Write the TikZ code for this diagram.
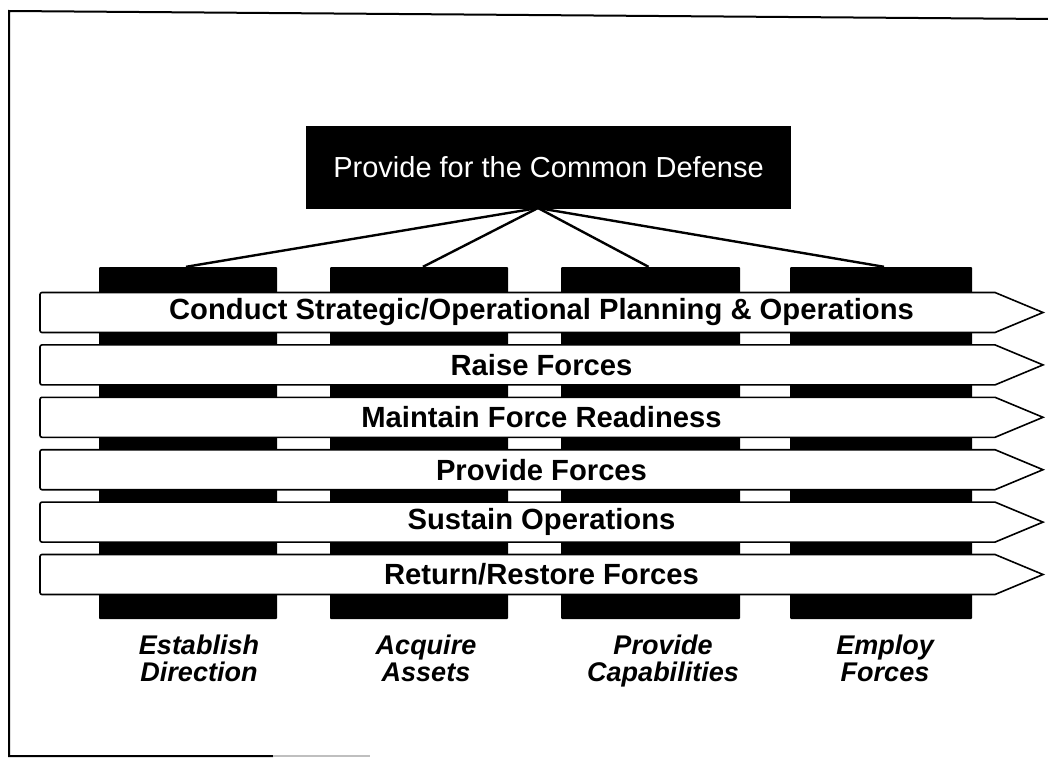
\documentclass[tikz,border=0pt]{standalone}
\usepackage{fontspec}
\setmainfont{Liberation Sans}
\begin{document}
\begin{tikzpicture}[x=1pt,y=-1pt,
  topbox/.style={fill=black,text=white,minimum width=485pt,minimum height=83pt,inner sep=0pt,
    font=\fontsize{29}{32}\selectfont},
  column/.style={fill=black,minimum height=352pt,inner sep=0pt,rounded corners=1pt},
  bandline/.style={draw=black,line width=1.6pt,fill=white,line join=miter},
  bandtext/.style={inner sep=0pt,font=\bfseries\fontsize{29.2}{31}\selectfont},
  link/.style={line width=2.4pt},
  label/.style={align=center,inner sep=0pt,anchor=north,font=\bfseries\itshape\fontsize{27}{27}\selectfont},
  frame/.style={line width=2pt}
]
\useasboundingbox (0,0) rectangle (1048,757);
% frame
\coordinate (ftr) at (1048,19);
\coordinate (ftl) at (9,11);
\coordinate (fbl) at (9,756);
\coordinate (fbm) at (273,756);
\coordinate (fbr) at (370,756);
\draw[frame] (ftr) -- (ftl) -- (fbl) -- (fbm);
\draw[frame,black!25] (fbm) -- (fbr);
% top box
\node[topbox] (top) at (548.5,167.5) {Provide for the Common Defense};
% columns
\node[column,minimum width=178pt] (c1) at (188,443) {};
\node[column,minimum width=178pt] (c2) at (419,443) {};
\node[column,minimum width=179pt] (c3) at (650.5,443) {};
\node[column,minimum width=182pt] (c4) at (881,443) {};
% connectors
\coordinate (apex) at (538,208);
\draw[link] (apex) -- ([xshift=-2pt]c1.north);
\draw[link] (apex) -- ([xshift=4pt]c2.north);
\draw[link] (apex) -- ([xshift=-2pt]c3.north);
\draw[link] (apex) -- ([xshift=3pt]c4.north);
% bands
\foreach \i/\y/\t in {1/312.5/{Conduct Strategic/Operational Planning \& Operations},
  2/364.9/{Raise Forces}, 3/417.3/{Maintain Force Readiness}, 4/469.7/{Provide Forces},
  5/522.1/{Sustain Operations}, 6/574.5/{Return/Restore Forces}}{
  \draw[bandline] (995,\y-20) -- (1043,\y) -- (995,\y+20)
     [rounded corners=2pt] -- (40,\y+20) -- (40,\y-20) [sharp corners] -- cycle;
  \node[bandtext] (b\i) at (541.5,\y) {\t};
}
% labels
\node[label] (l1) at (199,635) {Establish\\Direction};
\node[label] (l2) at (426,635) {Acquire\\Assets};
\node[label] (l3) at (663,635) {Provide\\Capabilities};
\node[label] (l4) at (885,635) {Employ\\Forces};
\end{tikzpicture}
\end{document}
